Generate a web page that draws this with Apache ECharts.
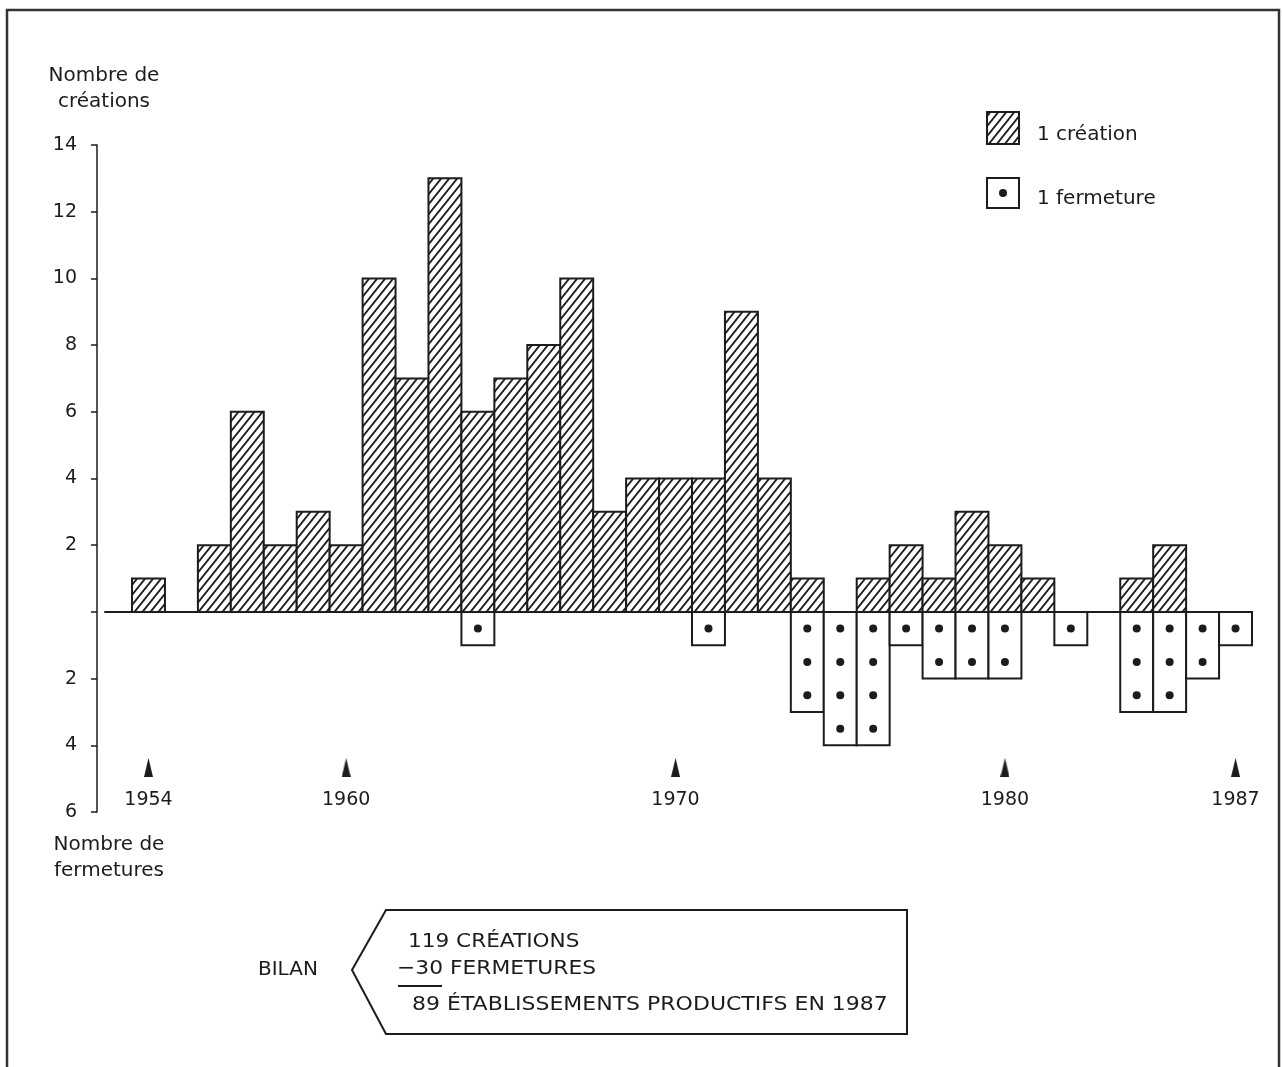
<!DOCTYPE html>
<html><head><meta charset="utf-8">
<script src="https://cdn.jsdelivr.net/npm/echarts@6/dist/echarts.min.js"></script>
<style>html,body{margin:0;padding:0;background:#fff}#c{width:1283px;height:1067px}</style>
</head><body><div id="c"></div>
<script>
// ---- data ----
const years = [1954,1955,1956,1957,1958,1959,1960,1961,1962,1963,1964,1965,1966,1967,1968,1969,1970,1971,1972,1973,1974,1975,1976,1977,1978,1979,1980,1981,1982,1983,1984,1985,1986,1987];
const creations = [1,0,2,6,2,3,2,10,7,13,6,7,8,10,3,4,4,4,9,4,1,0,1,2,1,3,2,1,0,0,1,2,0,0];
const closures  = [0,0,0,0,0,0,0,0,0,0,1,0,0,0,0,0,0,1,0,0,3,4,4,1,2,2,2,0,1,0,3,3,2,1];
const yearLabels = [1954,1960,1970,1980,1987];
const legendLabels = ['1 création','1 fermeture'];

const INK = '#1c1c1c';
const FONT = 'DejaVu Sans';

function makeHatch(){
  const w = 8, h = 10;
  const c = document.createElement('canvas'); c.width = w; c.height = h;
  const g = c.getContext('2d');
  g.fillStyle = '#fff'; g.fillRect(0,0,w,h);
  g.strokeStyle = INK; g.lineWidth = 1.8; g.lineCap = 'square';
  g.beginPath();
  g.moveTo(-w/8, h + h/8); g.lineTo(w + w/8, -h/8);
  g.moveTo(-w/4, h/4); g.lineTo(w/4, -h/4);
  g.moveTo(w - w/4, h + h/4); g.lineTo(w + w/4, h - h/4);
  g.stroke();
  return c;
}
function makeTri(){
  const c = document.createElement('canvas'); c.width = 9; c.height = 19;
  const g = c.getContext('2d');
  g.fillStyle = INK; g.beginPath(); g.moveTo(4.5,0); g.lineTo(9,19); g.lineTo(0,19); g.closePath(); g.fill();
  return c;
}
const hatch = {image: makeHatch(), repeat: 'repeat'};
const tri = makeTri();

const creationData = years.map((y,i)=>[y, creations[i]]);
const closureData = years.map((y,i)=>[y, closures[i]]);
const totalC = creations.reduce((a,b)=>a+b,0);
const totalF = closures.reduce((a,b)=>a+b,0);

function renderCreation(params, api){
  const x = api.value(0), v = api.value(1);
  if (!v) return null;
  const a = api.coord([x-0.5, v]), b = api.coord([x+0.5, 0]);
  return {type:'rect', shape:{x:a[0], y:a[1], width:b[0]-a[0], height:b[1]-a[1]},
          style:{fill:hatch, stroke:INK, lineWidth:2}};
}
function renderClosure(params, api){
  const x = api.value(0), n = api.value(1);
  if (!n) return null;
  const a = api.coord([x-0.5, 0]), b = api.coord([x+0.5, -n]);
  const children = [{type:'rect', shape:{x:a[0], y:a[1], width:b[0]-a[0], height:b[1]-a[1]},
          style:{fill:'#fff', stroke:INK, lineWidth:2}}];
  for (let k=0;k<n;k++){
    const p = api.coord([x, -k-0.5]);
    children.push({type:'circle', shape:{cx:p[0], cy:p[1], r:4}, style:{fill:INK}});
  }
  return {type:'group', children};
}

const chart = echarts.init(document.getElementById('c'), null, {renderer:'canvas'});
const txt = {fontFamily: FONT, fontSize: 19, color: INK};
const F20 = '20px "DejaVu Sans"';
chart.setOption({
  backgroundColor: '#fff',
  animation: false,
  grid: {left: 105, right: 31, top: 145, bottom: 255},
  xAxis: {
    type: 'value', min: 1952.68, max: 1987.5,
    axisLine: {onZero: true, lineStyle: {color: INK, width: 2}},
    axisTick: {show: false},
    splitLine: {show: false},
    axisLabel: {
      customValues: yearLabels,
      margin: -54,
      formatter: v => '{t|}\n{y|' + v + '}',
      rich: {
        t: {width: 9, height: 19, backgroundColor: {image: tri}, align: 'center'},
        y: {fontFamily: FONT, fontSize: 19, color: INK, lineHeight: 24, padding: [23,0,0,0]}
      }
    }
  },
  yAxis: [{
    type: 'value', min: -6, max: 14, interval: 2, position: 'left', offset: 8,
    axisLine: {show: true, lineStyle: {color: INK, width: 1.5}},
    axisTick: {show: true, length: 6, lineStyle: {color: INK, width: 1.5}},
    splitLine: {show: false},
    axisLabel: Object.assign({margin: 20, padding: [0,0,6,0], formatter: v => v === 0 ? '' : String(Math.abs(v))}, txt),
    name: 'Nombre de\ncréations', nameLocation: 'end', nameGap: 30,
    nameTextStyle: {fontFamily: FONT, color: INK, fontSize: 20, lineHeight: 26, align: 'center', padding: [0,0,0,14]}
  },{
    type: 'value', min: -6, max: 14, position: 'left', offset: 8,
    axisLine: {show: false}, axisTick: {show: false}, axisLabel: {show: false}, splitLine: {show: false},
    name: 'Nombre de\nfermetures', nameLocation: 'start', nameGap: 20,
    nameTextStyle: {fontFamily: FONT, color: INK, fontSize: 20, lineHeight: 26, align: 'center', verticalAlign: 'top', padding: [0,0,0,24]}
  }],
  series: [
    {type: 'custom', name: 'créations', renderItem: renderCreation, data: creationData, encode: {x: 0, y: 1}, clip: false},
    {type: 'custom', name: 'fermetures', renderItem: renderClosure, data: closureData, encode: {x: 0, y: 1}, clip: false}
  ],
  graphic: [
    {type: 'polyline', shape: {points: [[1279,1067],[1279,10],[7,10],[7,1067]]}, style: {stroke: '#333', lineWidth: 2.5, fill: null}, silent: true},
    // legend
    {type: 'rect', shape: {x: 987, y: 112, width: 32, height: 32}, style: {fill: hatch, stroke: INK, lineWidth: 2}},
    {type: 'text', x: 1037, y: 135, style: {text: legendLabels[0], font: F20, fill: INK, verticalAlign: 'middle'}},
    {type: 'rect', shape: {x: 987, y: 178, width: 32, height: 30}, style: {fill: '#fff', stroke: INK, lineWidth: 2}},
    {type: 'circle', shape: {cx: 1003, cy: 193, r: 4}, style: {fill: INK}},
    {type: 'text', x: 1037, y: 199, style: {text: legendLabels[1], font: F20, fill: INK, verticalAlign: 'middle'}},
    // bilan
    {type: 'text', x: 258, y: 970, style: {text: 'BILAN', font: F20, fill: INK, verticalAlign: 'middle'}},
    {type: 'polygon', shape: {points: [[352,970],[386,910],[907,910],[907,1034],[386,1034]]}, style: {fill: null, stroke: INK, lineWidth: 2}},
    {type: 'text', x: 408, y: 942, scaleX: 1.08, style: {text: totalC + ' CRÉATIONS', font: F20, fill: INK, verticalAlign: 'middle'}},
    {type: 'text', x: 397, y: 969, scaleX: 1.09, style: {text: '−' + totalF + ' FERMETURES', font: F20, fill: INK, verticalAlign: 'middle'}},
    {type: 'line', shape: {x1: 398, y1: 986, x2: 442, y2: 986}, style: {stroke: INK, lineWidth: 2}},
    {type: 'text', x: 412, y: 1005, scaleX: 1.1, style: {text: (totalC - totalF) + ' ÉTABLISSEMENTS PRODUCTIFS EN 1987', font: F20, fill: INK, verticalAlign: 'middle'}}
  ]
});
</script>
</body></html>
